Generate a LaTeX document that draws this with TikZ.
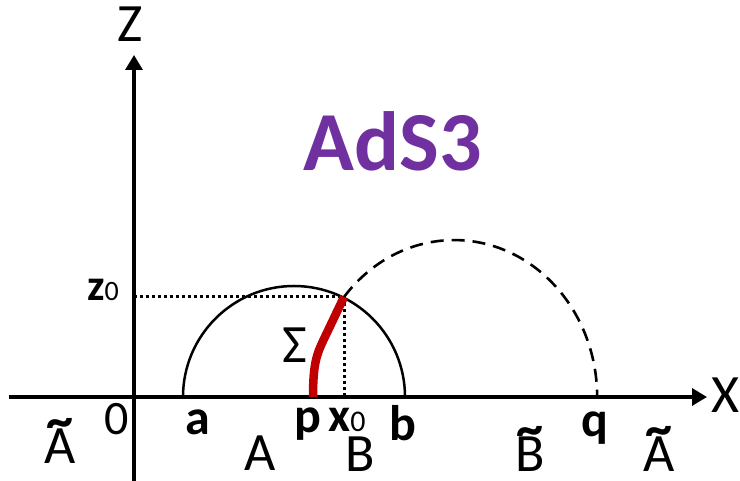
\documentclass[tikz,border=0pt]{standalone}
\usepackage{fontspec}
\setmainfont{Carlito}
\usetikzlibrary{arrows.meta}
\definecolor{adspurple}{HTML}{7030A0}
\definecolor{sigred}{HTML}{C00000}
\newcommand{\tld}[1]{\ooalign{#1\cr\hidewidth\raisebox{0.47em}{\bfseries\textasciitilde}\hidewidth\cr}}
\begin{document}
\begin{tikzpicture}[x=1pt,y=1pt,
  axisline/.style={line width=3.2pt,-{Triangle[length=15pt,width=17pt]}},
  geo/.style={line width=2.5pt},
  geodash/.style={line width=2.6pt,dash pattern=on 13pt off 8pt},
  guide/.style={line width=3pt,dash pattern=on 3pt off 3pt},
  sigma/.style={line width=8.5pt,sigred},
  lbl/.style={inner sep=0pt,anchor=base,text depth=0pt},
  big/.style={lbl,font=\fontsize{54}{54}\selectfont},
  pt/.style={lbl,font=\bfseries\fontsize{50}{50}\selectfont}
]
\useasboundingbox (0,0) rectangle (740,481);
% axes
\coordinate (xs) at (9,84);
\coordinate (xe) at (707,84);
\coordinate (zs) at (134,0);
\coordinate (ze) at (134,426);
\draw[axisline] (xs) -- (xe);
\draw[axisline] (zs) -- (ze);
% key points
\coordinate (a) at (183,84);
\coordinate (p) at (313,84);
\coordinate (X0) at (344,184);
\coordinate (x0foot) at (344,84);
\coordinate (z0foot) at (134,184);
% solid geodesic
\draw[geo] (a) arc[start angle=180,end angle=0,radius=111];
% dashed geodesic
\draw[geodash] (X0) arc[start angle=140.4,end angle=0,x radius=143,y radius=157];
% dotted guides
\draw[guide] (z0foot) -- (X0) -- (x0foot);
% Sigma curve
\draw[sigma] (p) .. controls (313,118) and (317,127) .. (323,140) -- (X0);
% labels
\node[big] (Zl) at (130,439) {Z};
\node[big] (Xl) at (726,68) {X};
\node[lbl,font=\bfseries\fontsize{84}{84}\selectfont,text=adspurple] (ads) at (393,310) {AdS3};
\node[lbl,anchor=base east] (z0) at (119,180) {{\bfseries\fontsize{44}{44}\selectfont z}{\fontsize{28}{28}\selectfont 0}};
\node[big] (sig) at (295,118) {Σ};
\node[big,font=\fontsize{48}{48}\selectfont] (orig) at (117,46) {0};
\node[pt] (al) at (198,46) {a};
\node[pt] (pl) at (308,48) {p};
\node[lbl,anchor=base west] (x0l) at (328,49) {{\bfseries\fontsize{48}{48}\selectfont x}{\fontsize{30}{30}\selectfont 0}};
\node[pt] (bl) at (403,40) {b};
\node[pt] (ql) at (595,44) {q};
\node[big] (At1) at (60,17) {\tld{A}};
\node[big] (Al) at (260,10) {A};
\node[big] (Bl) at (360,9) {B};
\node[big] (Bt) at (530,9) {\tld{B}};
\node[big] (At2) at (659,9) {\tld{A}};
\end{tikzpicture}
\end{document}
